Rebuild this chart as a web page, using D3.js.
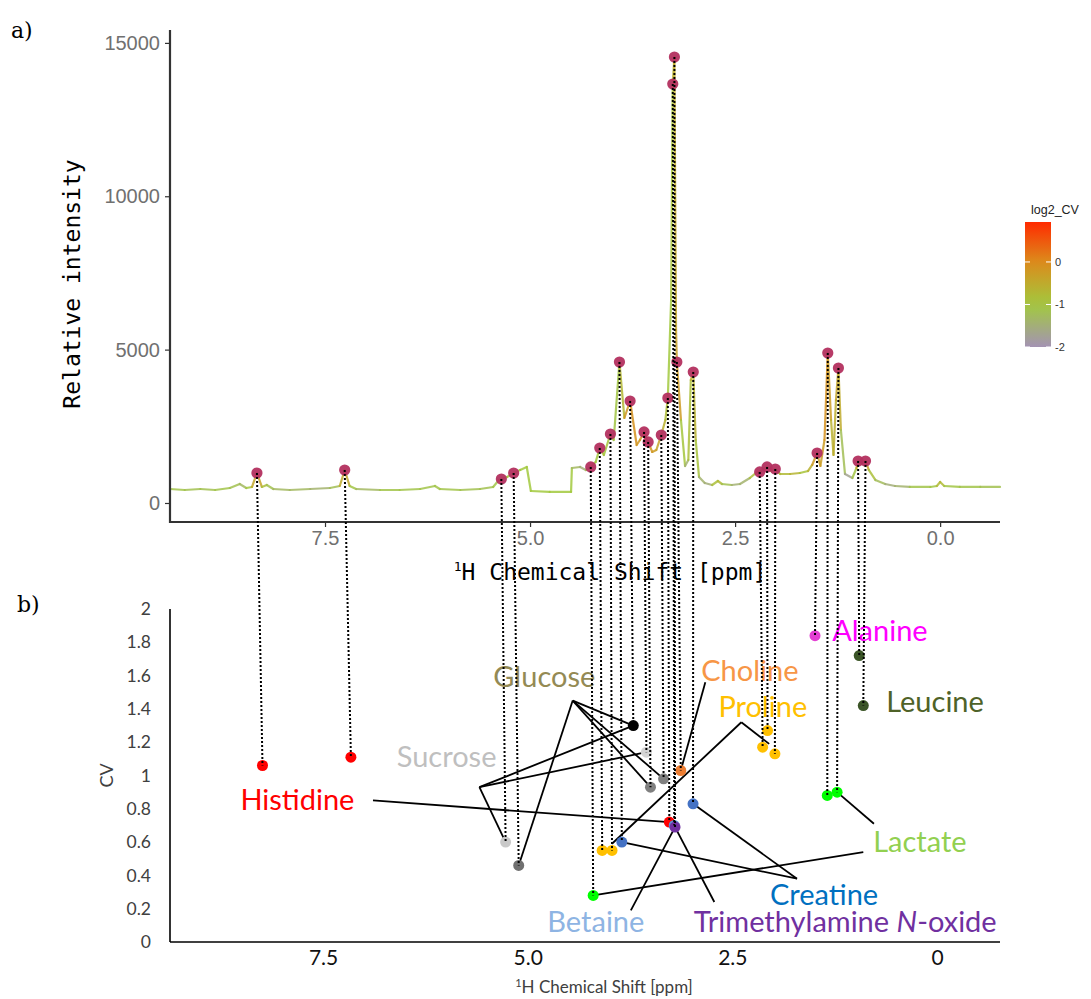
<!DOCTYPE html>
<html>
<head>
<meta charset="utf-8">
<script src="https://cdn.jsdelivr.net/npm/d3@7"></script>
<style>
  body { margin: 0; background: #ffffff; }
  svg { display: block; }
</style>
</head>
<body>
<svg id="chart" width="1091" height="999"></svg>
<script>
// ---- Panel a: 1H NMR spectrum (chemical shift, intensity, log2 CV along the trace)
const specShift = [
  9.39, 9.21, 9.02, 8.84, 8.66, 8.54, 8.46, 8.39, 8.33, 8.27, 8.21, 8.13, 7.93, 7.68, 7.44, 7.32,
  7.26, 7.20, 7.12, 6.83, 6.59, 6.34, 6.16, 6.10, 5.85, 5.61, 5.45, 5.38, 5.35, 5.28, 5.20, 5.12,
  5.04, 4.99, 4.76, 4.50, 4.49, 4.39, 4.32, 4.26, 4.20, 4.15, 4.10, 4.02, 3.98, 3.91, 3.85, 3.78,
  3.70, 3.66, 3.61, 3.56, 3.51, 3.46, 3.40, 3.35, 3.32, 3.28, 3.26, 3.24, 3.23, 3.22, 3.21, 3.16,
  3.11, 3.07, 3.04, 3.01, 2.98, 2.94, 2.87, 2.78, 2.71, 2.66, 2.54, 2.44, 2.32, 2.23, 2.20, 2.15,
  2.11, 2.06, 2.01, 1.95, 1.83, 1.71, 1.61, 1.56, 1.50, 1.46, 1.41, 1.37, 1.33, 1.30, 1.27, 1.24,
  1.21, 1.16, 1.07, 1.02, 1.00, 0.96, 0.91, 0.87, 0.79, 0.67, 0.55, 0.37, 0.12, 0.04, 0.00, -0.05,
  -0.24, -0.49, -0.73
];
const specIntensity = [
  456, 424, 456, 424, 489, 619, 489, 522, 978, 522, 587, 456, 424, 456, 489, 554,
  1076, 554, 456, 424, 424, 456, 554, 456, 424, 456, 522, 750, 782, 848, 978, 1076,
  1174, 391, 359, 359, 1141, 1174, 1076, 1174, 1337, 1793, 1565, 2249, 2054, 4597, 2771, 3325,
  1891, 2054, 2315, 1989, 1663, 1728, 2217, 2706, 3423, 6618, 13659, 14540, 9878, 5640, 4597, 2706,
  1206, 1402, 4010, 4271, 2054, 848, 652, 587, 717, 619, 587, 619, 815, 1011, 1011, 1108,
  1174, 1043, 1108, 945, 945, 978, 1043, 1239, 1630, 1206, 2054, 4890, 2706, 1565, 3358, 4401,
  2380, 945, 815, 1141, 1369, 1337, 1369, 1076, 750, 619, 554, 522, 522, 554, 685, 554,
  522, 522, 522
];
const specLog2CV = [
  -1.1, -1.1, -1.2, -1.1, -1.1, -1.2, -1.4, -0.6, -0.3, -0.5, -1.2, -1.1, -1.5, -1.1, -1.7, -0.7,
  -0.3, -0.6, -1.5, -1.1, -1.1, -1.1, -1.1, -1.1, -1.1, -1.2, -1.1, -1.1, -1.1, -1.0, -1.1, -1.0,
  -1.0, -1.0, -1.0, -1.0, -1.0, -1.6, -1.4, -1.0, -1.1, -0.9, -0.9, -1.0, -1.0, -1.1, -0.3, -0.1,
  -0.1, -0.3, -0.1, -0.1, -0.2, -0.3, -0.5, -0.7, -0.9, -1.1, -0.7, -0.5, -0.5, -0.4, -0.3, -0.2,
  -1.7, -1.2, -0.5, -0.5, -0.7, -1.1, -1.7, -1.3, -0.4, -1.1, -1.2, -1.7, -1.1, -0.6, -0.5, -0.7,
  -0.6, -0.8, -0.6, -1.1, -0.4, -0.9, -0.9, -0.3, -0.2, -0.5, -0.1, -0.1, -0.5, -0.7, -0.4, -0.4,
  -0.6, -1.8, -1.6, -0.5, -0.3, -0.4, -0.3, -0.5, -1.2, -1.3, -1.7, -1.1, -1.1, -1.0, -0.5, -1.0,
  -1.1, -1.1, -1.2
];

// picked signals on the spectrum
const peakShift = [
  8.33, 7.26, 5.35, 5.20, 4.26, 4.15, 4.02, 3.91, 3.78, 3.61, 3.56, 3.40, 3.32,
  3.26, 3.24, 3.21, 3.01, 2.20, 2.11, 2.01, 1.50, 1.37, 1.24, 1.00, 0.91
];
const peakIntensity = [
  978, 1076, 782, 978, 1174, 1793, 2249, 4597, 3325, 2315, 1989, 2217, 3423,
  13659, 14540, 4597, 4271, 1011, 1174, 1108, 1630, 4890, 4401, 1369, 1369
];

// ---- Panel b: coefficient of variation of each picked signal (same order as the peaks)
const cvShift = [
  8.24, 7.16, 5.27, 5.11, 4.20, 4.09, 3.97, 3.85, 3.71, 3.55, 3.50, 3.34, 3.27,
  3.21, 3.20, 3.13, 2.98, 2.13, 2.07, 1.98, 1.49, 1.34, 1.22, 0.95, 0.90
];
const cvValue = [
  1.06, 1.11, 0.60, 0.46, 0.28, 0.55, 0.55, 0.60, 1.30, 1.14, 0.93, 0.98, 0.72,
  0.70, 0.69, 1.03, 0.83, 1.17, 1.27, 1.13, 1.84, 0.88, 0.90, 1.72, 1.42
];
const cvCompound = [
  "Histidine", "Histidine", "Sucrose", "Glucose", "Lactate", "Proline", "Proline", "Creatine",
  "Glucose", "Sucrose", "Glucose", "Glucose", "Histidine", "Betaine", "Trimethylamine N-oxide",
  "Choline", "Creatine", "Proline", "Proline", "Proline", "Alanine", "Lactate", "Lactate",
  "Leucine", "Leucine"
];

// axis ticks
const intensityTicks = [0, 5000, 10000, 15000];
const shiftTicks = [7.5, 5.0, 2.5, 0.0];
const cvTicks = [0, 0.2, 0.4, 0.6, 0.8, 1, 1.2, 1.4, 1.6, 1.8, 2];
const legendTicks = [0, -1, -2];

// compound names and where they are written (chemical shift, CV)
const labelName = ["Alanine", "Leucine", "Choline", "Proline", "Lactate", "Creatine",
  "Trimethylamine N-oxide", "Betaine", "Glucose", "Sucrose", "Histidine"];
const labelShift = [1.28, 0.62, 2.88, 2.67, 0.78, 2.04, 2.97, 4.76, 5.42, 6.60, 8.51];
const labelCV = [1.81, 1.38, 1.57, 1.35, 0.54, 0.22, 0.06, 0.06, 1.53, 1.05, 0.79];

// leader lines from the names to their signals (chemical shift, CV)
const leaderFromShift = [4.45, 4.45, 4.45, 4.45, 5.59, 5.59, 5.59, 6.89, 2.83, 2.39, 2.39, 1.71, 1.71, 2.72, 3.74, 0.90, 0.77];
const leaderFromCV    = [1.45, 1.45, 1.45, 1.45, 0.93, 0.93, 0.93, 0.85, 1.56, 1.32, 1.32, 0.38, 0.38, 0.24, 0.19, 0.54, 0.71];
const leaderToShift   = [3.71, 3.34, 3.50, 5.11, 3.71, 3.55, 5.27, 3.27, 3.13, 2.05, 3.97, 2.98, 3.85, 3.20, 3.20, 4.20, 1.22];
const leaderToCV      = [1.30, 0.98, 0.93, 0.46, 1.30, 1.14, 0.60, 0.72, 1.03, 1.19, 0.59, 0.83, 0.60, 0.69, 0.69, 0.28, 0.90];

// ---- styles
const compoundColor = {
  "Alanine": "#ff00ff", "Leucine": "#4f6228", "Choline": "#f79646", "Proline": "#ffc000",
  "Lactate": "#92d050", "Creatine": "#0070c0", "Trimethylamine N-oxide": "#7030a0",
  "Betaine": "#8eb4e3", "Glucose": "#948a54", "Sucrose": "#bfbfbf", "Histidine": "#ff0000"
};
// marker fill of each CV point
const cvFill = [
  "#ff0000", "#ff0000", "#c9c9c9", "#707070", "#00ff00", "#ffc000", "#ffc000", "#4472c4",
  "#000000", "#d4d4d4", "#808080", "#7f7f7f", "#ff0000", "#5b8fd5", "#7030a0",
  "#ed7d31", "#4472c4", "#ffc000", "#ffc000", "#ffc000", "#e33fd3", "#00ff00", "#00ff00",
  "#3b5527", "#3b5527"
];

const svg = d3.select("#chart");
const monoFont = "'DejaVu Sans Mono', monospace";
const sansFont = "'Liberation Sans', Arial, sans-serif";
const bodyFont = "Lato, 'Open Sans', sans-serif";

// ================= panel a =================
const A = { left: 170, right: 1000, top: 30, bottom: 522 };
const xTop = d3.scaleLinear().domain([9.39, -0.73]).range([A.left, A.right]);
const yTop = d3.scaleLinear().domain([-620, 15420]).range([A.bottom, A.top]);
const cvColor = d3.scaleLinear()
  .domain([-2, -1, 0, 0.94])
  .range(["#a493b3", "#a2c93e", "#dc8c1c", "#ff2a00"])
  .interpolate(d3.interpolateRgb);

// spectrum trace, coloured segment by segment
const specPts = specShift.map((s, i) => ({ s, v: specIntensity[i], c: specLog2CV[i] }));
const gSpec = svg.append("g");
for (let i = 0; i < specPts.length - 1; i++) {
  const p = specPts[i], q = specPts[i + 1];
  gSpec.append("line")
    .attr("x1", xTop(p.s)).attr("y1", yTop(p.v))
    .attr("x2", xTop(q.s)).attr("y2", yTop(q.v))
    .attr("stroke", cvColor((p.c + q.c) / 2))
    .attr("stroke-width", 2.2)
    .attr("stroke-linecap", "round")
    .attr("stroke-opacity", 0.85);
}

// axes of panel a
const axisTopY = d3.axisLeft(yTop).tickValues(intensityTicks).tickFormat(d3.format("d")).tickSize(5).tickPadding(5);
const gyA = svg.append("g").attr("transform", `translate(${A.left},0)`).call(axisTopY);
const axisTopX = d3.axisBottom(xTop).tickValues(shiftTicks).tickFormat(d3.format(".1f")).tickSize(5).tickPadding(4);
const gxA = svg.append("g").attr("transform", `translate(0,${A.bottom})`).call(axisTopX);
[gyA, gxA].forEach(g => {
  g.select(".domain").remove();
  g.selectAll(".tick line").attr("stroke", "#333").attr("stroke-width", 1.2);
  g.selectAll(".tick text").attr("fill", "#707070").attr("font-family", sansFont).attr("font-size", 20);
});
svg.append("line").attr("x1", A.left).attr("x2", A.left).attr("y1", A.top).attr("y2", A.bottom + 1)
  .attr("stroke", "#333").attr("stroke-width", 2.2);
svg.append("line").attr("x1", A.left - 1).attr("x2", A.right).attr("y1", A.bottom).attr("y2", A.bottom)
  .attr("stroke", "#333").attr("stroke-width", 2.2);

svg.append("text")
  .attr("transform", `translate(80,${(A.top + A.bottom) / 2 + 8}) rotate(-90)`)
  .attr("text-anchor", "middle")
  .attr("font-family", monoFont).attr("font-size", 23).attr("fill", "#000")
  .text("Relative intensity");

const xtA = svg.append("text")
  .attr("x", 610).attr("y", 580)
  .attr("text-anchor", "middle")
  .attr("font-family", monoFont).attr("font-size", 23).attr("fill", "#000");
xtA.append("tspan").attr("font-size", 13).attr("dy", -9).text("1");
xtA.append("tspan").attr("dy", 9).text("H Chemical Shift [ppm]");

// colour legend
const L = { x: 1025, w: 26 };
const yLeg = d3.scaleLinear().domain([-2, 0.94]).range([347, 222]);
const grad = svg.append("defs").append("linearGradient")
  .attr("id", "cvgrad").attr("x1", 0).attr("y1", 1).attr("x2", 0).attr("y2", 0);
d3.range(0, 1.0001, 0.1).forEach(t => {
  const v = -2 + t * 2.94;
  grad.append("stop").attr("offset", t).attr("stop-color", cvColor(v));
});
svg.append("rect").attr("x", L.x).attr("y", yLeg(0.94)).attr("width", L.w)
  .attr("height", yLeg(-2) - yLeg(0.94)).attr("fill", "url(#cvgrad)");
legendTicks.forEach(t => {
  svg.append("line").attr("x1", L.x).attr("x2", L.x + 5).attr("y1", yLeg(t)).attr("y2", yLeg(t))
    .attr("stroke", "#fff").attr("stroke-width", 1);
  svg.append("line").attr("x1", L.x + L.w - 5).attr("x2", L.x + L.w).attr("y1", yLeg(t)).attr("y2", yLeg(t))
    .attr("stroke", "#fff").attr("stroke-width", 1);
  svg.append("text").attr("x", L.x + L.w + 4).attr("y", yLeg(t) + 4)
    .attr("font-family", sansFont).attr("font-size", 11).attr("fill", "#333").text(String(t));
});
svg.append("text").attr("x", L.x + 6).attr("y", 214)
  .attr("font-family", sansFont).attr("font-size", 12.5).attr("fill", "#222").text("log2_CV");

// peak markers
svg.append("g").selectAll("circle").data(peakShift).join("circle")
  .attr("cx", (d) => xTop(d))
  .attr("cy", (d, i) => yTop(peakIntensity[i]))
  .attr("r", 5.6)
  .attr("fill", "#b3305f").attr("fill-opacity", 0.95);

// ================= panel b =================
const B = { left: 170, right: 1000, top: 609, bottom: 942 };
const xBot = d3.scaleLinear().domain([9.37, -0.77]).range([B.left, B.right]);
const yBot = d3.scaleLinear().domain([0, 2]).range([B.bottom, B.top]);

svg.append("line").attr("x1", B.left).attr("x2", B.left).attr("y1", B.top).attr("y2", B.bottom)
  .attr("stroke", "#000").attr("stroke-width", 1.6);
svg.append("line").attr("x1", B.left).attr("x2", B.right).attr("y1", B.bottom).attr("y2", B.bottom)
  .attr("stroke", "#000").attr("stroke-width", 1.6);

const gyB = svg.append("g").attr("transform", `translate(${B.left},0)`)
  .call(d3.axisLeft(yBot).tickValues(cvTicks).tickSize(0).tickPadding(19).tickFormat(d3.format("")));
const gxB = svg.append("g").attr("transform", `translate(0,${B.bottom})`)
  .call(d3.axisBottom(xBot).tickValues(shiftTicks).tickSize(0).tickPadding(8)
    .tickFormat(d => d === 0 ? "0" : d3.format(".1f")(d)));
gyB.select(".domain").remove();
gxB.select(".domain").remove();
gyB.selectAll(".tick text").attr("font-family", bodyFont).attr("font-size", 17.5).attr("fill", "#404040");
gxB.selectAll(".tick text").attr("font-family", bodyFont).attr("font-size", 21).attr("fill", "#111");

svg.append("text")
  .attr("transform", `translate(113,${yBot(1)}) rotate(-90)`)
  .attr("text-anchor", "middle")
  .attr("font-family", bodyFont).attr("font-size", 18).attr("fill", "#404040").text("CV");

const xtB = svg.append("text").attr("x", 604).attr("y", 993).attr("text-anchor", "middle")
  .attr("font-family", bodyFont).attr("font-size", 17).attr("fill", "#404040");
xtB.append("tspan").attr("font-size", 11).attr("dy", -6).text("1");
xtB.append("tspan").attr("dy", 6).text("H Chemical Shift [ppm]");

// leader lines
svg.append("g").selectAll("line").data(leaderFromShift).join("line")
  .attr("x1", (d) => xBot(d)).attr("y1", (d, i) => yBot(leaderFromCV[i]))
  .attr("x2", (d, i) => xBot(leaderToShift[i])).attr("y2", (d, i) => yBot(leaderToCV[i]))
  .attr("stroke", "#000").attr("stroke-width", 1.8);

// CV markers
svg.append("g").selectAll("circle").data(cvShift).join("circle")
  .attr("cx", (d) => xBot(d))
  .attr("cy", (d, i) => yBot(cvValue[i]))
  .attr("r", 5.5)
  .attr("fill", (d, i) => cvFill[i]);

// compound names
const gLab = svg.append("g").attr("font-family", bodyFont).attr("font-size", 29);
labelName.forEach((name, i) => {
  const t = gLab.append("text").attr("x", xBot(labelShift[i])).attr("y", yBot(labelCV[i]))
    .attr("fill", compoundColor[name]);
  if (name === "Trimethylamine N-oxide") {
    t.append("tspan").text("Trimethylamine ");
    t.append("tspan").attr("font-style", "italic").text("N");
    t.append("tspan").text("-oxide");
  } else {
    t.text(name);
  }
});

// dotted connectors from each picked signal to its CV point
svg.append("g").selectAll("line").data(peakShift).join("line")
  .attr("x1", (d) => xTop(d)).attr("y1", (d, i) => yTop(peakIntensity[i]))
  .attr("x2", (d, i) => xBot(cvShift[i])).attr("y2", (d, i) => yBot(cvValue[i]))
  .attr("stroke", "#000").attr("stroke-width", 2).attr("stroke-dasharray", "2,2");

// panel letters
svg.append("text").attr("x", 11).attr("y", 38).attr("font-family", "'DejaVu Serif', serif")
  .attr("font-size", 22).text("a)");
svg.append("text").attr("x", 17).attr("y", 612).attr("font-family", "'DejaVu Serif', serif")
  .attr("font-size", 22).text("b)");
</script>
</body>
</html>
